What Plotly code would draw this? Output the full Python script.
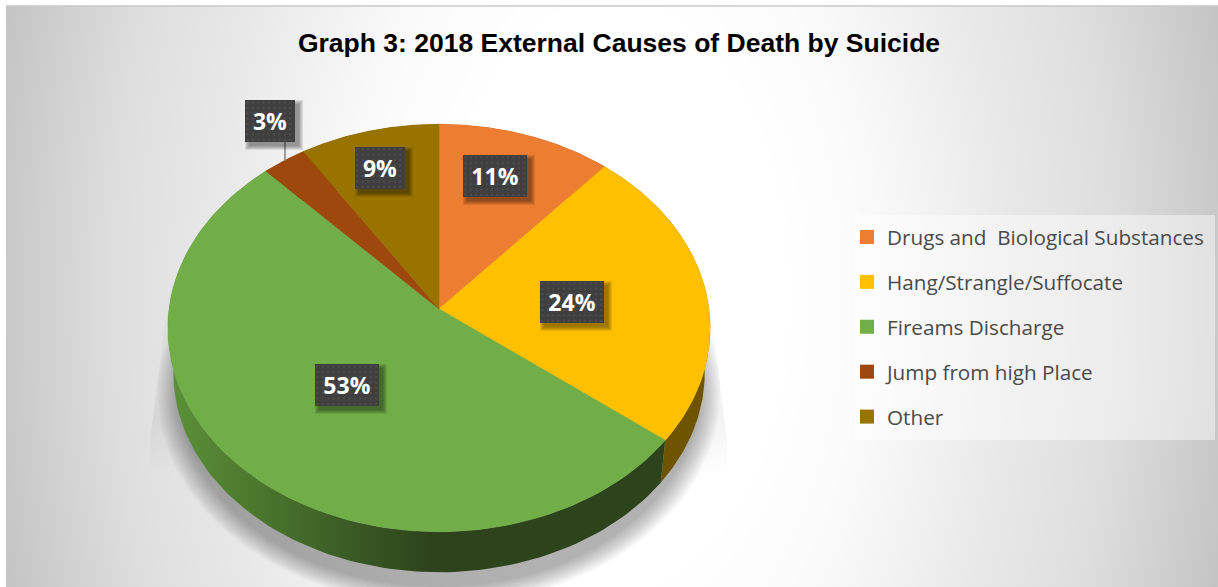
import numpy as np
import plotly.graph_objects as go

# ---- data ----
categories = ["Drugs and \u00a0Biological Substances", "Hang/Strangle/Suffocate",
              "Fireams Discharge", "Jump from high Place", "Other"]
values = [11.4, 24.1, 52.5, 2.9, 9.1]
value_labels = ["11%", "24%", "53%", "3%", "9%"]
title_text = "Graph 3: 2018 External Causes of Death by Suicide"

# ---- style ----
top_colors = ["#ED7D31", "#FFC000", "#71AE48", "#9E480E", "#997300"]
wall_colors = ["#77401a", "#6E5300", "#2E471F", "#4f2407", "#4d3a00"]
label_xy = [(495, 176), (572, 302), (347, 385), (270, 121), (380, 168)]
label_wh = [(64, 42), (64, 42), (64, 42), (50, 42), (50, 42)]
W, H = 1218, 587
CX, TOP_CY, A, B, K = 439, 309, 270, 202, 0.093
BOT_CY, BOT_S = 354, 0.98


def project(theta, cy, scale=1.0):
    s = scale / (1 + K * np.cos(theta))
    return CX + A * np.sin(theta) * s, cy - B * np.cos(theta) * s


fig = go.Figure()

# background gradient
gx = np.arange(10, W + 10, 8)
gy = np.arange(10, H + 10, 8)
X, Y = np.meshgrid(gx, gy)
q = np.sqrt((X - 612) ** 2 + (0.6 * (Y - 296)) ** 2)
Z = np.interp(q, [0, 170, 260, 340, 400, 500, 620, 640], [255, 255, 250, 240, 232, 222, 198, 191])
fig.add_trace(go.Heatmap(x=gx, y=gy, z=Z, zmin=0, zmax=255, zsmooth="best",
                         colorscale=[[0, "rgb(0,0,0)"], [1, "rgb(255,255,255)"]],
                         showscale=False, hoverinfo="skip"))

# pale shadow cone on both sides of the pie
fig.add_trace(go.Scatter(
    x=[170, 150, 150, 439, 727, 727, 708], y=[285, 440, 475, 590, 475, 440, 285],
    mode="lines", line=dict(width=0), fill="toself", showlegend=False, hoverinfo="skip",
    fillgradient=dict(type="vertical", start=285, stop=475,
                      colorscale=[[0, "rgba(0,0,0,0.01)"], [0.7, "rgba(0,0,0,0.05)"], [1, "rgba(0,0,0,0)"]])))

# soft shadow under the pie
t_all = np.linspace(0, 2 * np.pi, 241)
for i in range(14, 0, -1):
    grow = 0.97 + i * 1.7 / A
    sx, sy = project(t_all, BOT_CY + 20, BOT_S * grow)
    fig.add_trace(go.Scatter(x=sx, y=sy, mode="lines", line=dict(width=0), fill="toself",
                             fillcolor="rgba(0,0,0,0.022)", showlegend=False, hoverinfo="skip"))

edges = np.concatenate([[0], np.cumsum(values)]) / np.sum(values) * 2 * np.pi

# side walls
for i, cat in enumerate(categories):
    t = np.linspace(edges[i], edges[i + 1], 120)
    x1, y1 = project(t, TOP_CY)
    x2, y2 = project(t[::-1], BOT_CY, BOT_S)
    kw = dict(fillcolor=wall_colors[i])
    if i == 2:
        kw = dict(fillgradient=dict(type="horizontal", start=170, stop=430, colorscale=[
            [0, "#5C9139"], [0.3, "#4C7A2E"], [0.6, "#3E6227"], [1, "#2D431B"]]))
    fig.add_trace(go.Scatter(x=np.r_[x1, x2], y=np.r_[y1, y2], mode="lines", line=dict(width=0),
                             fill="toself", showlegend=False, hoverinfo="skip", **kw))

# top slices
for i, cat in enumerate(categories):
    t = np.linspace(edges[i], edges[i + 1], 120)
    x1, y1 = project(t, TOP_CY)
    fig.add_trace(go.Scatter(x=np.r_[CX, x1, CX], y=np.r_[TOP_CY, y1, TOP_CY], mode="lines",
                             line=dict(width=0.5, color=top_colors[i]), fill="toself",
                             fillcolor=top_colors[i], name=cat, showlegend=False,
                             hoveron="fills", text=f"{cat}: {value_labels[i]}", hoverinfo="text"))

# leader line of the smallest slice
fig.add_trace(go.Scatter(x=[285, 285], y=[140, 161], mode="lines", showlegend=False, hoverinfo="skip",
                         line=dict(color="#7F7F7F", width=1.5)))


def rect_trace(x0, x1, y0, y1, color):
    return go.Scatter(x=[x0, x1, x1, x0, x0], y=[y0, y0, y1, y1, y0], mode="lines", line=dict(width=0),
                      fill="toself", fillcolor=color, showlegend=False, hoverinfo="skip")


# data-label boxes: blurred shadow, dark box, dotted texture; text is an annotation
annotations = []
for (lx, ly), (lw, lh), txt in zip(label_xy, label_wh, value_labels):
    for grow in (4, 3, 2, 1, 0):
        fig.add_trace(rect_trace(lx - lw / 2 + 4 - grow, lx + lw / 2 + 4 + grow,
                                 ly - lh / 2 + 4 - grow, ly + lh / 2 + 4 + grow, "rgba(0,0,0,0.09)"))
    fig.add_trace(rect_trace(lx - lw / 2, lx + lw / 2, ly - lh / 2, ly + lh / 2, "#3F3F3F"))
    dx, dy = np.meshgrid(np.arange(lx - lw / 2 + 2.5, lx + lw / 2, 5.33),
                         np.arange(ly - lh / 2 + 2.5, ly + lh / 2, 5.33))
    fig.add_trace(go.Scatter(x=dx.ravel(), y=dy.ravel(), mode="markers", showlegend=False, hoverinfo="skip",
                             marker=dict(symbol="square", size=2, color="#4E4E4E", line=dict(width=0))))
    annotations.append(dict(x=lx, y=ly, xref="x", yref="y", text=f"<b>{txt}</b>", showarrow=False,
                            width=lw, height=lh, borderpad=0, valign="middle",
                            font=dict(family="Open Sans", size=23, color="white")))

# legend entries
for i, cat in enumerate(categories):
    fig.add_trace(go.Scatter(x=[None], y=[None], mode="markers", name=cat, legendgroup=cat,
                             marker=dict(symbol="square", size=14, color=top_colors[i])))

shapes = [
    dict(type="line", x0=6, x1=W, y0=6, y1=6, line=dict(color="#C8C8C8", width=1.5)),
    dict(type="rect", x0=855, x1=1215, y0=215, y1=440, line=dict(width=0),
         fillcolor="rgba(255,255,255,0.45)"),
]

fig.update_layout(
    width=W, height=H, margin=dict(l=0, r=0, t=0, b=0), paper_bgcolor="white", plot_bgcolor="white",
    xaxis=dict(range=[0, W], visible=False, fixedrange=True),
    yaxis=dict(range=[H, 0], visible=False, fixedrange=True),
    title=dict(text=f"<b>{title_text}</b>", x=619 / W, xanchor="center", y=1 - 43 / H, yanchor="middle",
               font=dict(family="Liberation Sans", size=26.5, color="black")),
    legend=dict(x=847 / W, y=1 - 217 / H, xanchor="left", yanchor="top", bgcolor="rgba(0,0,0,0)",
                traceorder="grouped", tracegroupgap=15, itemclick=False, itemdoubleclick=False,
                font=dict(family="Open Sans", size=20.7, color="#4A4A4A")),
    shapes=shapes, annotations=annotations, showlegend=True,
)
fig.write_html("out.html", config=dict(displayModeBar=False),
               post_script="document.body.style.margin='0';")
